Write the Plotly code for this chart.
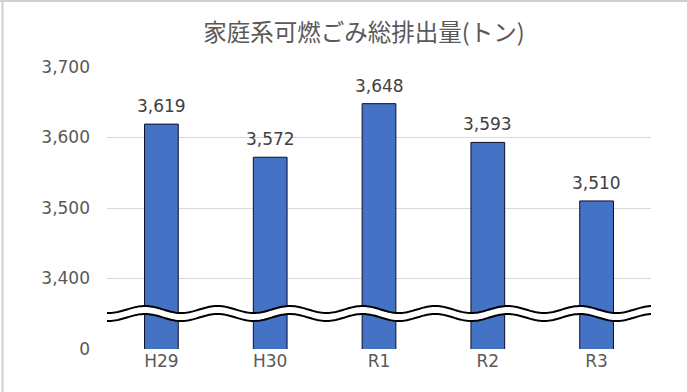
import numpy as np
import plotly.graph_objects as go

# ---- data ----
categories = ["H29", "H30", "R1", "R2", "R3"]
values = [3619, 3572, 3648, 3593, 3510]
title_text = "家庭系可燃ごみ総排出量(トン)"

# broken axis: the bottom gridline represents 0
axis_floor = 3300
tick_values = [3300, 3400, 3500, 3600, 3700]
tick_labels = ["0", "3,400", "3,500", "3,600", "3,700"]

W, H = 687, 392
ML, MR, MT, MB = 107, 36, 67, 43
pw = W - ML - MR
ph = H - MT - MB

NUM_FONT = "DejaVu Sans"

fig = go.Figure()
fig.add_trace(go.Bar(
    x=list(range(len(categories))),
    y=values,
    width=0.31,
    marker=dict(color="#4472C4", line=dict(color="#0D0D26", width=1)),
    hoverinfo="skip",
))
# data labels above the bars
for i, v in enumerate(values):
    fig.add_annotation(x=i, y=v, text=f"{v:,}", showarrow=False,
                       yanchor="bottom", yshift=6,
                       font=dict(family=NUM_FONT, size=17, color="#404040"))

# ---- wavy break lines (data coordinates) ----
ypx = ph / (tick_values[-1] - tick_values[0])  # px per unit
xs = np.linspace(-0.518, 4.51, 300)
phase0 = -0.151
period = 2 / 3
amp = 3.5 / ypx
up_c = axis_floor + (349 - 309.5) / ypx
lo_c = axis_floor + (349 - 317.5) / ypx
wave = amp * np.cos(2 * np.pi * (xs - phase0) / period)
up = up_c + wave
lo = lo_c + wave

def path_of(xx, yy):
    return "M " + " L ".join(f"{a:.4f},{b:.3f}" for a, b in zip(xx, yy))

fill_path = path_of(np.concatenate([xs, xs[::-1]]), np.concatenate([up, lo[::-1]])) + " Z"
fig.add_shape(type="path", path=fill_path, xref="x", yref="y",
              fillcolor="white", line=dict(width=0), layer="above")
for yy in (up, lo):
    fig.add_shape(type="path", path=path_of(xs, yy), xref="x", yref="y",
                  line=dict(color="black", width=2), layer="above")

# ---- light frame on top and left ----
fig.add_shape(type="line", xref="paper", yref="paper",
              x0=(0 - ML) / pw, x1=(W - ML) / pw,
              y0=(H - MB - 1) / ph, y1=(H - MB - 1) / ph,
              line=dict(color="#D0D0D0", width=2), layer="above")
fig.add_shape(type="line", xref="paper", yref="paper",
              x0=(2.5 - ML) / pw, x1=(2.5 - ML) / pw,
              y0=(H - MB) / ph, y1=-MB / ph,
              line=dict(color="#D0D0D0", width=2), layer="above")

fig.update_layout(
    width=W, height=H,
    margin=dict(l=ML, r=MR, t=MT, b=MB, pad=0),
    paper_bgcolor="white", plot_bgcolor="white",
    showlegend=False,
    title=dict(text=title_text, x=364 / W, xanchor="center",
               y=1 - 33 / H, yanchor="middle", yref="container",
               font=dict(family="Noto Sans CJK JP", size=23.5, color="#595959")),
    xaxis=dict(
        tickmode="array", tickvals=list(range(len(categories))), ticktext=categories,
        range=[-0.5, len(categories) - 0.5],
        showgrid=False, showline=False, zeroline=False, ticks="",
        tickfont=dict(family=NUM_FONT, size=17, color="#595959"),
        fixedrange=True,
    ),
    yaxis=dict(
        range=[tick_values[0], tick_values[-1]],
        tickmode="array", tickvals=tick_values, ticktext=tick_labels,
        showgrid=True, gridcolor="#D9D9D9", gridwidth=1,
        zeroline=False, showline=False, ticks="",
        ticklabelstandoff=16,
        tickfont=dict(family=NUM_FONT, size=17, color="#595959"),
        fixedrange=True,
    ),
)

fig.write_html("out.html", config={"displayModeBar": False},
               post_script="document.body.style.margin='0';")
